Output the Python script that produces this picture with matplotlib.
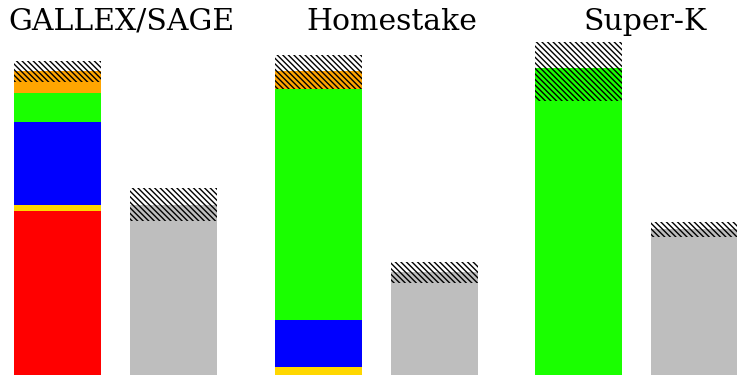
import numpy as np
import matplotlib.pyplot as plt

plt.rcParams['hatch.linewidth'] = 1.0
plt.rcParams['hatch.color'] = 'black'

titles = ["GALLEX/SAGE", "Homestake", "Super-K"]

# theory contributions per experiment (bottom to top)
components = ["pp", "pep", "7Be", "8B", "CNO"]
comp_colors = {"pp": "#ff0000", "pep": "#ffd700", "7Be": "#0000ff",
               "8B": "#1aff00", "CNO": "#ffa500"}

gallium_theory = [69.0, 2.5, 34.9, 12.2, 9.3]      # SNU
chlorine_theory = [0.0, 0.20, 1.18, 5.78, 0.45]    # SNU
superk_theory = [0.0, 0.0, 0.0, 5.05, 0.0]         # 10^6 /cm^2/s

theory_band = [(123.3, 132.1), (7.15, 8.0), (4.51, 5.48)]
measured = [71.5, 2.58, 2.40]
measured_band = [(64.8, 78.7), (2.30, 2.83), (2.27, 2.52)]

y_tops = [157.8, 9.375, 6.17]
theory = [gallium_theory, chlorine_theory, superk_theory]

W, H = 737, 376
fig = plt.figure(figsize=(W / 100, H / 100), dpi=100)

centers = [57, 318.5, 578.7]   # px, left bar of each pair
pair_gap = 116.0
width = 0.75
hatch = '\\' * 6

for i in range(3):
    left = (centers[i] - pair_gap / 2) / W
    ax = fig.add_axes([left, 1 / H, 2 * pair_gap / W, 375 / H])
    ax.set_xlim(-0.5, 1.5)
    ax.set_ylim(0, y_tops[i])
    ax.axis('off')

    # stacked theory bar
    bottom = 0.0
    for name, val in zip(components, theory[i]):
        if val > 0:
            ax.bar(0, val, width, bottom=bottom, color=comp_colors[name], linewidth=0)
        bottom += val
    lo, hi = theory_band[i]
    ax.bar(0, hi - lo, width, bottom=lo, facecolor='none', edgecolor='black',
           hatch=hatch, linewidth=0)

    # measured rate
    ax.bar(1, measured[i], width, color='#bebebe', linewidth=0)
    lo, hi = measured_band[i]
    ax.bar(1, hi - lo, width, bottom=lo, facecolor='none', edgecolor='black',
           hatch=hatch, linewidth=0)

title_x = [121, 391.5, 645]
for t, x in zip(titles, title_x):
    fig.text(x / W, 1 - 30 / H, t, family='DejaVu Serif', fontsize=21.5,
             ha='center', va='baseline')

fig.savefig("out.png", dpi=100, facecolor='white')
